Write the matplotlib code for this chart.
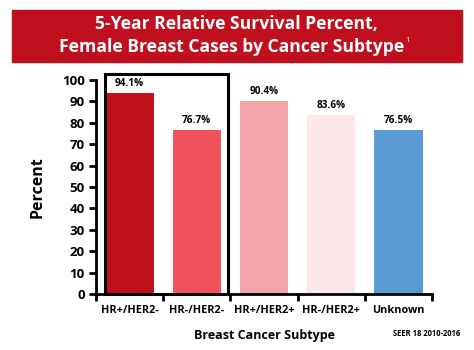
import matplotlib.pyplot as plt
import matplotlib.patches as patches
import numpy as np

plt.rcParams['font.family'] = ['Open Sans', 'DejaVu Sans']
plt.rcParams['font.weight'] = 'bold'

# data
subtypes = ["HR+/HER2-", "HR-/HER2-", "HR+/HER2+", "HR-/HER2+", "Unknown"]
survival = [94.1, 76.7, 90.4, 83.6, 76.5]
colors = ["#C0101C", "#F1525E", "#F5A4AA", "#FDE7E8", "#5B9BD5"]

fig = plt.figure(figsize=(4.74, 3.5), dpi=100)
ax = fig.add_axes([96/474, 1 - 294/350, 336/474, 214/350])

x = np.arange(len(subtypes))
bars = ax.bar(x, survival, width=0.72, color=colors)
for xi, v in zip(x, survival):
    ax.text(xi, v + 1.8, f"{v}%", ha="center", va="bottom", fontsize=7.2, fontweight="bold")

ax.set_xlim(-0.5, 4.5)
ax.set_ylim(0, 100)
ax.set_yticks(range(0, 101, 10))
ax.set_xticks(x)
ax.set_xticklabels(subtypes, fontsize=7.8, fontweight="bold")
ax.set_xticks(np.arange(-0.5, 5, 1), minor=True)
ax.tick_params(axis="x", which="major", length=0, pad=8)
ax.tick_params(axis="x", which="minor", length=5, width=2, direction="out")
ax.tick_params(axis="y", length=5, width=2, labelsize=9.5, pad=3)
for lab in ax.get_yticklabels():
    lab.set_fontweight("bold")

for s in ["top", "right"]:
    ax.spines[s].set_visible(False)
for s in ["left", "bottom"]:
    ax.spines[s].set_linewidth(2)

ax.set_ylabel("Percent", fontsize=11.5, fontweight="bold", labelpad=12)
fig.text(264/474, 1 - 335/350, "Breast Cancer Subtype", ha="center", va="center",
         fontsize=9, fontweight="bold")

# highlight box around the HR-/HER2- group
box = patches.Rectangle((-0.37, 0), 1.83, 102.8, fill=False, lw=2.2,
                        edgecolor="black", clip_on=False)
ax.add_patch(box)

# title banner
fig.patches.append(patches.Rectangle((12/474, 1 - 62/350), 450/474, 52/350,
                                     transform=fig.transFigure, color="#C00F1E"))
fig.text(236/474, 1 - 24/350, "5-Year Relative Survival Percent,", color="white",
         ha="center", va="center", fontsize=12.6, fontweight="bold")
fig.text(232/474, 1 - 47/350, "Female Breast Cases by Cancer Subtype", color="white",
         ha="center", va="center", fontsize=12.6, fontweight="bold")
fig.text(408/474, 1 - 40/350, "1", color="white", ha="center", va="center",
         fontsize=5.5, fontweight="normal")

fig.text(427/474, 1 - 333/350, "SEER 18 2010-2016", ha="center", va="center",
         fontsize=5.5, fontweight="bold")

fig.savefig("out.png", dpi=100)
